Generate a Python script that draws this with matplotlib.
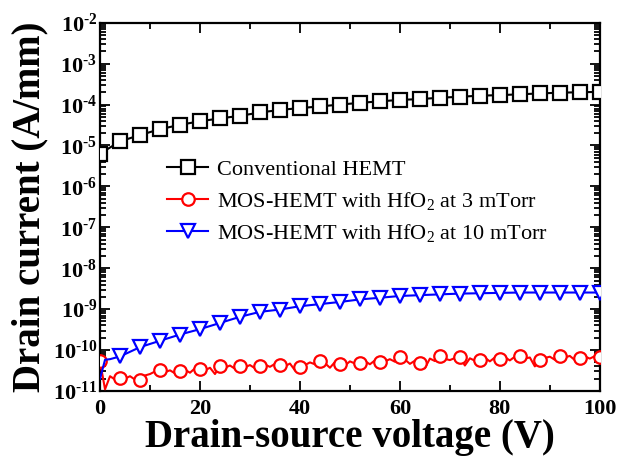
import numpy as np
import matplotlib
matplotlib.use("Agg")
import matplotlib.pyplot as plt
from matplotlib.ticker import LogLocator, MultipleLocator, NullFormatter

# ---------------- data ----------------
v_black = [0, 4, 8, 12, 16, 20, 24, 28, 32, 36, 40, 44, 48, 52, 56, 60, 64, 68,
           72, 76, 80, 84, 88, 92, 96, 100]
i_black = [6.3e-6, 1.26e-5, 1.8e-5, 2.5e-5, 3.2e-5, 3.9e-5, 4.6e-5, 5.3e-5,
           6.4e-5, 7.4e-5, 8.2e-5, 9.0e-5, 1.0e-4, 1.1e-4, 1.2e-4, 1.3e-4,
           1.36e-4, 1.47e-4, 1.55e-4, 1.65e-4, 1.7e-4, 1.78e-4, 1.87e-4,
           1.95e-4, 2.0e-4, 2.04e-4]

v_red = list(range(0, 101))
i_red = [5.3e-11, 1.1e-11, 2.3e-11, 1.9e-11, 2.1e-11, 2.0e-11, 2.3e-11, 1.9e-11,
         1.85e-11, 2.4e-11, 2.6e-11, 3.0e-11, 3.3e-11, 2.9e-11, 3.2e-11, 2.7e-11,
         3.1e-11, 3.3e-11, 2.8e-11, 3.6e-11, 3.5e-11, 3.2e-11, 3.7e-11, 2.6e-11,
         4.0e-11, 3.7e-11, 4.2e-11, 3.5e-11, 4.15e-11, 3.8e-11, 4.3e-11, 3.6e-11,
         4.1e-11, 4.4e-11, 3.9e-11, 4.6e-11, 4.4e-11, 4.0e-11, 4.7e-11, 3.2e-11,
         3.9e-11, 4.3e-11, 5.0e-11, 4.5e-11, 5.5e-11, 4.8e-11, 3.7e-11, 5.1e-11,
         4.55e-11, 4.2e-11, 5.3e-11, 4.7e-11, 4.9e-11, 5.4e-11, 4.5e-11, 5.6e-11,
         5.0e-11, 5.3e-11, 6.0e-11, 5.2e-11, 6.8e-11, 5.9e-11, 4.6e-11, 5.5e-11,
         4.8e-11, 3.6e-11, 6.2e-11, 5.4e-11, 7.0e-11, 6.1e-11, 5.7e-11, 6.4e-11,
         6.8e-11, 4.2e-11, 6.3e-11, 5.5e-11, 5.8e-11, 6.5e-11, 5.3e-11, 6.6e-11,
         6.1e-11, 6.7e-11, 5.6e-11, 6.9e-11, 7.0e-11, 6.2e-11, 6.6e-11, 4.0e-11,
         5.6e-11, 6.4e-11, 6.9e-11, 5.8e-11, 7.3e-11, 6.6e-11, 7.2e-11, 5.7e-11,
         6.4e-11, 7.0e-11, 6.2e-11, 7.1e-11, 6.8e-11]

v_blue = [0, 1, 2, 4, 8, 12, 16, 20, 24, 28, 32, 36, 40, 44, 48, 52, 56, 60,
          64, 68, 72, 76, 80, 84, 88, 92, 96, 100]
i_blue = [2.0e-11, 5.8e-11, 6.0e-11, 7.0e-11, 1.18e-10, 1.69e-10, 2.4e-10,
          3.25e-10, 4.6e-10, 6.5e-10, 8.6e-10, 9.8e-10, 1.18e-9, 1.33e-9,
          1.5e-9, 1.73e-9, 1.9e-9, 2.1e-9, 2.2e-9, 2.3e-9, 2.4e-9, 2.45e-9,
          2.5e-9, 2.55e-9, 2.55e-9, 2.55e-9, 2.55e-9, 2.55e-9]

labels = ["Conventional HEMT",
          "MOS-HEMT with HfO$_2$ at 3 mTorr",
          "MOS-HEMT with HfO$_2$ at 10 mTorr"]

xticks = [0, 20, 40, 60, 80, 100]
xtick_labels = ["0", "20", "40", "60", "80", "100"]
yticks = [1e-11, 1e-10, 1e-9, 1e-8, 1e-7, 1e-6, 1e-5, 1e-4, 1e-3, 1e-2]
ytick_labels = ["$\\mathbf{10^{\u2010" + e + "}}$"
                for e in ["11", "10", "9", "8", "7", "6", "5", "4", "3", "2"]]

# ---------------- style ----------------
plt.rcParams["font.family"] = ["Liberation Serif", "DejaVu Serif"]
plt.rcParams["mathtext.fontset"] = "custom"
plt.rcParams["mathtext.rm"] = "Liberation Serif"
plt.rcParams["mathtext.bf"] = "Liberation Serif:bold"
plt.rcParams["mathtext.it"] = "Liberation Serif:italic"

fig = plt.figure(figsize=(6.19, 4.57), dpi=100)
ax = fig.add_axes([0.1616, 0.1444, 0.8074, 0.8059])

ax.plot(v_black, i_black, color="black", lw=1.5, marker="s", ms=9.5,
        mfc="white", mec="black", mew=1.6, label=labels[0], zorder=3)
ax.plot(v_red, i_red, color="red", lw=1.5, marker="o", ms=9,
        mfc="white", mec="red", mew=1.6, markevery=4, label=labels[1], zorder=3)
ax.plot(v_blue, i_blue, color="blue", lw=1.5, marker="v", ms=10,
        mfc="white", mec="blue", mew=1.6, markevery=list(range(3, len(v_blue))),
        label=labels[2], zorder=4)

ax.set_yscale("log")
ax.set_xlim(0, 100)
ax.set_ylim(1e-11, 1e-2)

ax.set_xticks(xticks)
ax.set_xticklabels(xtick_labels, fontsize=16, fontweight="bold")
ax.xaxis.set_minor_locator(MultipleLocator(10))
ax.set_yticks(yticks)
ax.set_yticklabels(ytick_labels, fontsize=16)
ax.yaxis.set_minor_locator(LogLocator(base=10, subs=np.arange(2, 10), numticks=100))
ax.yaxis.set_minor_formatter(NullFormatter())

ax.tick_params(which="both", direction="in", top=True, right=True, width=1.3)
ax.tick_params(which="major", length=7)
ax.tick_params(which="minor", length=4)
ax.tick_params(axis="x", which="major", pad=6)
ax.tick_params(axis="y", which="major", pad=2)
for s in ax.spines.values():
    s.set_linewidth(1.6)

ax.set_xlabel("Drain-source voltage (V)", fontsize=28, fontweight="bold", labelpad=0)
ax.set_ylabel("Drain current (A/mm)", fontsize=28, fontweight="bold", labelpad=3)

leg = ax.legend(loc="upper left", bbox_to_anchor=(0.134, 0.63),
                bbox_transform=ax.transAxes, frameon=False, fontsize=16,
                handlelength=1.85, handletextpad=0.4, labelspacing=0.45,
                markerscale=1.0, borderaxespad=0, borderpad=0)

fig.savefig("out.png", dpi=100)
